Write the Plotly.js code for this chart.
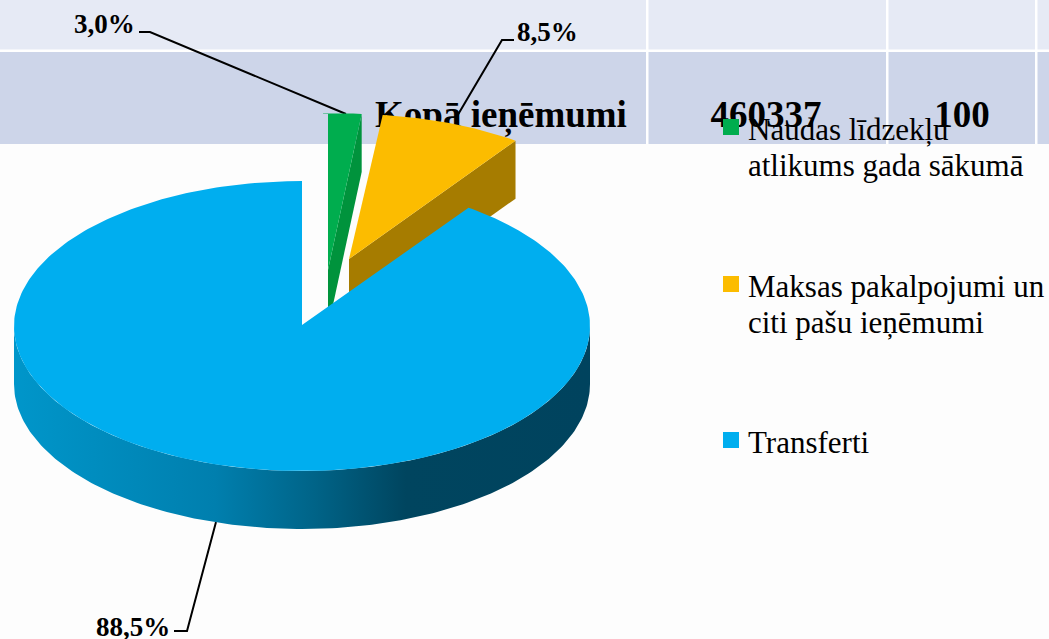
<!DOCTYPE html>
<html><head><meta charset="utf-8">
<script src="https://cdn.plot.ly/plotly-3.0.1.min.js"></script>
<style>html,body{margin:0;padding:0;background:#fdfdfd}#c{width:1049px;height:639px}</style>
</head><body><div id="c"></div>
<script>
const categories = ['Naudas līdzekļu<br>atlikums gada sākumā', 'Maksas pakalpojumi un<br>citi pašu ieņēmumi', 'Transferti'];
const shares = [3.0, 8.5, 88.5];
const shareLabels = ['3,0%', '8,5%', '88,5%'];
const topColors = ['#00ad4e', '#fcbc00', '#00aeef'];
const sideColors = ['#00933c', '#a67c00', null];
const tableCells = ['Kopā ieņēmumi', '460337', '100'];

const FONT = '"Liberation Serif", "Times New Roman", serif';
const W = 1049, H = 639;
const pie = {cx: 302, cy: 326, rx: 288, ry: 145, depth: 58};
const explode = [{dx: 26, dy: -56, dr: 12}, {dx: 47, dy: -67, dr: 0}, {dx: 0, dy: 0, dr: 0}];

// far-side foreshortening of the tilted pie
const view = t => t - 8.3 * Math.pow(Math.abs(Math.sin(t * Math.PI / 360)), 0.3);
const at = (deg, e, dy) => {
  const r = deg * Math.PI / 180;
  return [pie.cx + e.dx + pie.rx * Math.sin(r), pie.cy + e.dy + (dy || 0) - (pie.ry + e.dr) * Math.cos(r)];
};
const pt = (deg, e, dy) => at(view(deg), e, dy);
function arc(a, b, e, dy, f) {
  const out = [], n = Math.max(2, Math.ceil(Math.abs(b - a)));
  for (let i = 0; i <= n; i++) out.push((f || pt)(a + (b - a) * i / n, e, dy));
  return out;
}
const poly = (pts, extra) => Object.assign({
  type: 'scatter', mode: 'lines', x: pts.map(p => p[0]), y: pts.map(p => p[1]),
  fill: 'toself', line: {width: 0}, hoverinfo: 'skip', showlegend: false
}, extra);

const edges = [0];
shares.forEach(s => edges.push(edges[edges.length - 1] + s * 3.6));

const traces = [];
// table text sits beneath the pie
traces.push({type: 'scatter', mode: 'text', x: [501, 766, 962], y: [118, 118, 118], text: tableCells,
  textposition: 'middle center', textfont: {family: FONT, size: 37, color: '#000', weight: 700},
  hoverinfo: 'skip', showlegend: false});

// leader lines
const leaders = [
  {x: [139, 150, 346], y: [32, 32, 114]},
  {x: [514, 502, 456], y: [40, 40, 118]},
  {x: [174, 187, 216], y: [631, 631, 522]}
];
leaders.forEach(l => traces.push({type: 'scatter', mode: 'lines', x: l.x, y: l.y,
  line: {color: '#000', width: 2}, hoverinfo: 'skip', showlegend: false}));

// exploded slices: wall first, then top
[0, 1].forEach(i => {
  const e = explode[i], a = edges[i], b = edges[i + 1];
  const apex = [pie.cx + e.dx, pie.cy + e.dy];
  const outer = pt(b, e), outerLow = pt(b, e, pie.depth);
  traces.push(poly([apex, outer, outerLow, [apex[0], apex[1] + pie.depth], apex], {fillcolor: sideColors[i]}));
  traces.push(poly([apex].concat(arc(a, b, e)).concat([apex]), {fillcolor: topColors[i]}));
});

// large slice: rim with shading, then top
const e2 = explode[2];
const rimTop = arc(90, 270, e2, 0, at), rimLow = arc(270, 90, e2, pie.depth, at);
traces.push(poly(rimTop.concat(rimLow).concat([rimTop[0]]), {
  fillcolor: '#00445f',
  fillgradient: {type: 'horizontal', colorscale: [[0, '#0096ca'], [0.35, '#007fae'], [0.52, '#006488'], [0.68, '#00455f'], [1, '#00435e']]}
}));
const apex2 = [pie.cx, pie.cy - 1];
traces.push(poly([apex2].concat(arc(edges[2], edges[3], e2)).concat([apex2]), {fillcolor: topColors[2]}));

// legend keys
traces.push({type: 'scatter', mode: 'markers', x: [731, 731, 731], y: [127, 284, 440],
  marker: {symbol: 'square', size: 16, color: topColors, line: {width: 0}}, hoverinfo: 'skip', showlegend: false});

const annotations = [];
const txt = (x, y, t, size, bold) => annotations.push({x, y, xref: 'x', yref: 'y', text: bold ? '<b>' + t + '</b>' : t,
  showarrow: false, xanchor: 'left', yanchor: 'middle', align: 'left', borderpad: 0, borderwidth: 0,
  font: {family: FONT, size, color: '#000'}});
txt(74, 24, shareLabels[0], 27, true);
txt(517, 32, shareLabels[1], 27, true);
txt(96, 627, shareLabels[2], 27, true);
[129, 286, 442].forEach((y, i) => categories[i].split('<br>').forEach((line, j) => txt(748, y + j * 36, line, 31, false)));

const band = (x0, x1, y0, y1, c) => ({type: 'rect', layer: 'below', xref: 'x', yref: 'y', x0, x1, y0, y1, fillcolor: c, line: {width: 0}});
const shapes = [band(0, W, 0, 50, '#e6eaf5'), band(0, W, 50, 144, '#cdd5e9'),
  band(0, W, 49.5, 52, '#ffffff'), band(646, 648.5, 0, 144, '#ffffff'),
  band(886, 888.5, 0, 144, '#ffffff'), band(1035, 1037.5, 0, 144, '#ffffff')];

const ax = r => ({range: r, visible: false, fixedrange: true, showgrid: false, zeroline: false});
Plotly.newPlot('c', traces, {
  width: W, height: H, margin: {l: 0, r: 0, t: 0, b: 0, pad: 0},
  paper_bgcolor: '#fdfdfd', plot_bgcolor: '#fdfdfd', showlegend: false,
  xaxis: ax([0, W]), yaxis: ax([H, 0]), shapes, annotations
}, {displayModeBar: false, staticPlot: true});
</script></body></html>
